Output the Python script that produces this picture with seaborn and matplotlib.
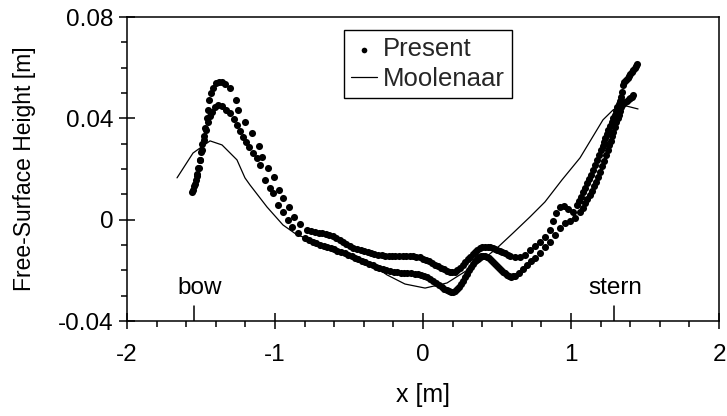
import matplotlib
matplotlib.use("Agg")
import matplotlib.pyplot as plt
import numpy as np
import pandas as pd
import seaborn as sns
from matplotlib.ticker import MultipleLocator, FixedLocator

# ---------------- data ----------------
present_a_x = [-1.561, -1.547, -1.534, -1.527, -1.520, -1.507, -1.500, -1.493, -1.480, -1.473,
               -1.459, -1.453, -1.446, -1.432, -1.419, -1.399, -1.378, -1.358, -1.338, -1.304,
               -1.264, -1.250, -1.203, -1.155, -1.108, -1.088, -1.047, -1.007, -0.973, -0.946,
               -0.905, -0.872, -0.831, -0.784, -0.730, -0.682, -0.635, -0.588, -0.541, -0.493,
               -0.446, -0.399, -0.351, -0.304, -0.257, -0.209, -0.162, -0.115, -0.068, -0.020,
               0.020, 0.061, 0.101, 0.142, 0.182, 0.216, 0.250, 0.284, 0.318, 0.351,
               0.385, 0.419, 0.453, 0.486, 0.520, 0.554, 0.588, 0.622, 0.655, 0.689,
               0.723, 0.757, 0.791, 0.824, 0.858, 0.878, 0.899, 0.926, 0.953, 0.980,
               1.014, 1.041, 1.068, 1.095, 1.122, 1.149, 1.176, 1.203, 1.223, 1.243,
               1.264, 1.284, 1.304, 1.324, 1.338, 1.345, 1.351, 1.372, 1.392, 1.412,
               1.432, 1.446,
               -0.757, -0.706, -0.658, -0.611, -0.564, -0.517, -0.470, -0.422, -0.375, -0.328,
               -0.280, -0.233, -0.186, -0.138, -0.091, -0.044, 0.000, 0.040, 0.081, 0.122,
               0.162, 0.199, 0.233, 0.267, 0.301, 0.335, 0.368, 0.402, 0.436, 0.470,
               0.503, 0.537, 0.571,
               1.054, 1.081, 1.108, 1.135, 1.162, 1.189, 1.213, 1.233, 1.253, 1.274,
               1.294, 1.314, 1.331, 1.361, 1.382, 1.402, 1.422, 1.439]
present_a_y = [0.0109, 0.0133, 0.0157, 0.0181, 0.0204, 0.0236, 0.0267, 0.0299, 0.0331, 0.0362,
               0.0402, 0.0434, 0.0473, 0.0500, 0.0520, 0.0540, 0.0544, 0.0544, 0.0536, 0.0520,
               0.0473, 0.0434, 0.0386, 0.0342, 0.0291, 0.0247, 0.0204, 0.0168, 0.0117, 0.0086,
               0.0050, 0.0011, -0.0017, -0.0041, -0.0049, -0.0053, -0.0060, -0.0072, -0.0088, -0.0104,
               -0.0116, -0.0124, -0.0131, -0.0139, -0.0143, -0.0145, -0.0145, -0.0145, -0.0145, -0.0149,
               -0.0159, -0.0171, -0.0183, -0.0195, -0.0206, -0.0206, -0.0191, -0.0167, -0.0147, -0.0128,
               -0.0112, -0.0106, -0.0108, -0.0116, -0.0124, -0.0133, -0.0143, -0.0149, -0.0147, -0.0139,
               -0.0120, -0.0104, -0.0088, -0.0068, -0.0041, -0.0005, 0.0027, 0.0050, 0.0054, 0.0042,
               0.0030, 0.0058, 0.0090, 0.0125, 0.0161, 0.0196, 0.0236, 0.0275, 0.0307, 0.0338,
               0.0370, 0.0401, 0.0429, 0.0457, 0.0484, 0.0504, 0.0532, 0.0552, 0.0567, 0.0583,
               0.0599, 0.0615,
               -0.0045, -0.0051, -0.0056, -0.0066, -0.0080, -0.0096, -0.0110, -0.0120, -0.0128, -0.0135,
               -0.0141, -0.0144, -0.0145, -0.0145, -0.0145, -0.0147, -0.0154, -0.0165, -0.0177, -0.0189,
               -0.0201, -0.0207, -0.0199, -0.0179, -0.0157, -0.0137, -0.0120, -0.0108, -0.0106, -0.0112,
               -0.0120, -0.0128, -0.0138,
               0.0074, 0.0108, 0.0143, 0.0178, 0.0216, 0.0255, 0.0291, 0.0322, 0.0354, 0.0386,
               0.0415, 0.0443, 0.0470, 0.0542, 0.0560, 0.0575, 0.0591, 0.0607]

present_b_x = [-1.554, -1.541, -1.527, -1.514, -1.507, -1.493, -1.480, -1.466, -1.453, -1.439,
               -1.426, -1.405, -1.385, -1.358, -1.331, -1.304, -1.277, -1.257, -1.236, -1.216,
               -1.196, -1.176, -1.149, -1.122, -1.101, -1.068, -1.034, -1.014, -0.980, -0.946,
               -0.912, -0.885, -0.845, -0.797, -0.743, -0.696, -0.649, -0.601, -0.554, -0.507,
               -0.459, -0.412, -0.365, -0.318, -0.270, -0.223, -0.176, -0.128, -0.081, -0.034,
               0.007, 0.047, 0.088, 0.128, 0.162, 0.189, 0.216, 0.243, 0.270, 0.297,
               0.324, 0.351, 0.378, 0.405, 0.432, 0.459, 0.486, 0.514, 0.541, 0.568,
               0.595, 0.622, 0.649, 0.676, 0.703, 0.730, 0.757, 0.791, 0.824, 0.858,
               0.892, 0.926, 0.959, 0.993, 1.027, 1.061, 1.095, 1.128, 1.155, 1.182,
               1.209, 1.236, 1.257, 1.277, 1.297, 1.318, 1.331, 1.351, 1.378, 1.399,
               1.419,
               -0.770, -0.720, -0.672, -0.625, -0.578, -0.530, -0.483, -0.436, -0.389, -0.341,
               -0.294, -0.247, -0.199, -0.152, -0.105, -0.057, -0.014, 0.027, 0.068, 0.108,
               0.145, 0.176, 0.203, 0.230, 0.257, 0.284, 0.311, 0.338, 0.365, 0.392,
               0.419, 0.446, 0.473, 0.500, 0.527, 0.554, 0.582, 0.608,
               1.078, 1.111, 1.142, 1.169, 1.196, 1.223, 1.247, 1.267, 1.287, 1.307,
               1.324, 1.341, 1.365, 1.389, 1.409]
present_b_y = [0.0117, 0.0141, 0.0173, 0.0204, 0.0236, 0.0275, 0.0315, 0.0354, 0.0386, 0.0410,
               0.0425, 0.0445, 0.0453, 0.0449, 0.0433, 0.0421, 0.0397, 0.0374, 0.0350, 0.0326,
               0.0307, 0.0287, 0.0263, 0.0244, 0.0216, 0.0157, 0.0125, 0.0105, 0.0058, 0.0030,
               -0.0001, -0.0029, -0.0053, -0.0072, -0.0088, -0.0100, -0.0106, -0.0116, -0.0128, -0.0139,
               -0.0151, -0.0163, -0.0175, -0.0185, -0.0195, -0.0203, -0.0208, -0.0210, -0.0212, -0.0214,
               -0.0222, -0.0234, -0.0250, -0.0266, -0.0278, -0.0285, -0.0282, -0.0266, -0.0242, -0.0214,
               -0.0187, -0.0163, -0.0147, -0.0144, -0.0147, -0.0159, -0.0175, -0.0191, -0.0206, -0.0218,
               -0.0226, -0.0222, -0.0210, -0.0195, -0.0179, -0.0163, -0.0151, -0.0132, -0.0108, -0.0088,
               -0.0061, -0.0033, -0.0013, -0.0005, 0.0007, 0.0030, 0.0066, 0.0097, 0.0133, 0.0168,
               0.0211, 0.0255, 0.0294, 0.0330, 0.0366, 0.0402, 0.0429, 0.0457, 0.0469, 0.0480,
               0.0492,
               -0.0080, -0.0094, -0.0103, -0.0111, -0.0122, -0.0133, -0.0145, -0.0157, -0.0169, -0.0180,
               -0.0190, -0.0199, -0.0206, -0.0209, -0.0211, -0.0213, -0.0218, -0.0228, -0.0242, -0.0258,
               -0.0272, -0.0282, -0.0284, -0.0274, -0.0254, -0.0228, -0.0200, -0.0175, -0.0155, -0.0145,
               -0.0145, -0.0153, -0.0167, -0.0183, -0.0198, -0.0212, -0.0222, -0.0224,
               0.0048, 0.0081, 0.0115, 0.0150, 0.0190, 0.0233, 0.0274, 0.0312, 0.0348, 0.0384,
               0.0415, 0.0443, 0.0463, 0.0475, 0.0486]

moolenaar_x = [-1.662, -1.554, -1.439, -1.358, -1.257, -1.203, -1.169, -1.054, -0.946, -0.851,
               -0.716, -0.493, -0.311, -0.243, -0.122, 0.014, 0.162, 0.270, 0.385, 0.500,
               0.608, 0.723, 0.824, 0.939, 1.061, 1.216, 1.284, 1.345, 1.453]
moolenaar_y = [0.0165, 0.0263, 0.0311, 0.0295, 0.0236, 0.0165, 0.0137, 0.0050, -0.0021, -0.0060,
               -0.0088, -0.0147, -0.0191, -0.0218, -0.0254, -0.0270, -0.0250, -0.0210, -0.0167, -0.0112,
               -0.0053, 0.0011, 0.0070, 0.0157, 0.0244, 0.0394, 0.0433, 0.0453, 0.0437]

x_ticks = [-2, -1, 0, 1, 2]
x_tick_labels = ["-2", "-1", "0", "1", "2"]
y_ticks = [-0.04, 0.0, 0.04, 0.08]
y_tick_labels = ["-0.04", "0", "0.04", "0.08"]
hull_marks = {"bow": -1.547, "stern": 1.29}

# ---------------- style ----------------
sns.set_theme(style="white")
plt.rcParams["font.family"] = ["Liberation Sans", "DejaVu Sans"]
plt.rcParams["axes.edgecolor"] = "black"
plt.rcParams["axes.linewidth"] = 1.1

fig = plt.figure(figsize=(7.27, 4.16), dpi=100)
ax = fig.add_axes([127 / 727, 1 - 321 / 416, 592 / 727, 304 / 416])

present = pd.DataFrame({
    "x": present_a_x + present_b_x,
    "y": present_a_y + present_b_y,
})
sns.scatterplot(data=present, x="x", y="y", ax=ax, color="black", s=26,
                linewidth=0, label="Present", zorder=3)
sns.lineplot(x=moolenaar_x, y=moolenaar_y, ax=ax, color="black", linewidth=0.9,
             label="Moolenaar", sort=False, estimator=None, zorder=2)

ax.set_xlim(-2, 2)
ax.set_ylim(-0.04, 0.08)
ax.xaxis.set_major_locator(FixedLocator(x_ticks))
ax.yaxis.set_major_locator(FixedLocator(y_ticks))
ax.set_xticklabels(x_tick_labels)
ax.set_yticklabels(y_tick_labels)
ax.xaxis.set_minor_locator(MultipleLocator(0.2))
ax.yaxis.set_minor_locator(MultipleLocator(0.01))
ax.tick_params(which="major", direction="inout", length=11, width=1.1, color="black",
               labelsize=17.5, labelcolor="black", bottom=True, left=True, top=False, right=False)
ax.tick_params(which="minor", direction="out", length=4.5, width=1.1, color="black",
               bottom=True, left=True, top=False, right=False)
ax.tick_params(axis="x", which="major", pad=11)
ax.tick_params(axis="y", which="major", pad=4)

ax.set_xlabel("x [m]", fontsize=18, color="black", labelpad=12)
ax.set_ylabel("Free-Surface Height [m]", fontsize=16.5, color="black", labelpad=16)

for sp in ax.spines.values():
    sp.set_visible(True)
    sp.set_color("black")
    sp.set_linewidth(1.1)

# bow / stern marks
for name, xv in hull_marks.items():
    ax.plot([xv, xv], [-0.04, -0.034], color="black", linewidth=1.1, zorder=2)
    ax.text(xv + (0.04 if name == "bow" else 0.01), -0.0295, name, ha="center", va="baseline",
            fontsize=17.5, color="black")

leg = ax.legend(loc="upper left", bbox_to_anchor=(0.366, 0.957), frameon=True, fancybox=False,
                edgecolor="black", facecolor="white", framealpha=1, fontsize=18.5,
                handlelength=1.0, handletextpad=0.25, borderpad=0.28, labelspacing=0.22,
                borderaxespad=0, markerscale=0.8)
leg.get_frame().set_linewidth(1.0)

fig.savefig("out.png", dpi=100)
